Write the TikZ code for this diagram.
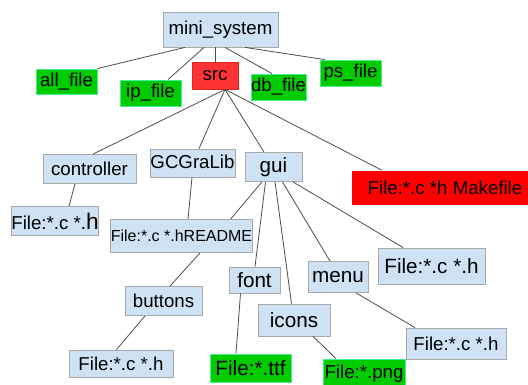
\documentclass[tikz,border=0pt]{standalone}
\usepackage{fontspec}
\setmainfont{Liberation Sans}
\usetikzlibrary{calc}
\definecolor{dirblue}{HTML}{CFE2F3}
\definecolor{dirline}{HTML}{A8A8A8}
\definecolor{filegreen}{HTML}{00CC00}
\definecolor{greenline}{HTML}{44EE99}
\definecolor{srcred}{HTML}{FF3333}
\definecolor{srcline}{HTML}{DD2222}
\tikzset{
  bluebox/.style={draw=dirline,fill=dirblue,inner sep=0pt,line width=0.6pt,font=\fontsize{14}{16}\selectfont},
  greenbox/.style={draw=greenline,fill=filegreen,inner sep=0pt,line width=0.6pt,font=\fontsize{14}{16}\selectfont},
  redbox/.style={draw=srcline,fill=srcred,inner sep=0pt,line width=0.6pt,font=\fontsize{14}{16}\selectfont},
  big/.style={font=\fontsize{15.5}{18}\selectfont},
  wh/.style 2 args={minimum width=#1*0.75pt,minimum height=#2*0.75pt},
  link/.style={draw=black!70,line width=0.6pt}
}
\begin{document}
\begin{tikzpicture}[x=0.75pt,y=-0.75pt]
\useasboundingbox (0,0) rectangle (528,385);
\begin{scope}
\clip (0,0) rectangle (528,385);

\node[bluebox,wh={115}{35}] (ms) at (220.5,29.5) {mini\_system};
\node[greenbox,wh={61}{25}] (all) at (66.5,81.5) {all\_file};
\node[greenbox,wh={61}{26}] (ip) at (150.5,93) {ip\_file};
\node[redbox,wh={46}{27}] (src) at (215,75.5) {src};
\node[greenbox,wh={53}{26}] (db) at (278.5,87) {db\_file};
\node[greenbox,wh={61}{26}] (ps) at (350.5,73) {ps\_file};

\node[bluebox,wh={93}{29}] (ctrl) at (89.5,169) {controller};
\node[bluebox,wh={85}{28}] (gcg) at (192.5,163) {\raisebox{2pt}{GCGraLib}};
\node[bluebox,big,wh={57}{29}] (gui) at (273.5,167) {gui};
\node[redbox,draw=none,fill=red,wh={186}{34}] (mk) at (445,187.5) {File:*.c *h Makefile};

\node[bluebox,wh={86}{29}] (fc) at (55,221) {File:*.c *.{\fontsize{17}{18}\selectfont h}};
\node[bluebox,font=\fontsize{12}{14}\selectfont,wh={141}{33}] (rd) at (181.5,236) {File:*.c *.hREADME};
\node[bluebox,big,wh={107}{36}] (fg) at (431.5,266) {File:*.c *.h};

\node[bluebox,big,wh={51}{26}] (font) at (254.5,280) {font};
\node[bluebox,big,wh={60}{31}] (menu) at (338,277) {menu};
\node[bluebox,big,wh={72}{32}] (icons) at (294,320) {icons};
\node[bluebox,wh={77}{29}] (btn) at (163.5,301) {buttons};

\node[bluebox,wh={104}{27}] (fb) at (121,363.5) {File:*.c *.h};
\node[greenbox,big,wh={81}{28}] (ttf) at (250.5,368) {File:*.ttf};
\node[greenbox,wh={82}{30}] (png) at (364,374) {File:*.png};
\node[bluebox,wh={100}{31}] (fm) at (456,343.5) {File:*.c *.h};

\draw[link] ($(ms.south)+(-35.5,0)$) -- (all.north east);
\draw[link] ($(ms.south)+(-16.5,0)$) -- ($(ip.north)+(17.5,0)$);
\draw[link] ($(ms.south)+(-5.5,0)$) -- (src.north);
\draw[link] ($(ms.south)+(4.5,0)$) -- ($(db.north)+(-6.5,0)$);
\draw[link] ($(ms.south)+(24.5,0)$) -- ($(ps.north west)+(5,0)$);

\draw[link] ($(src.south)+(10,0)$) -- ($(ctrl.north)+(3.5,0)$);
\draw[link] ($(src.south)+(10,0)$) -- ($(gcg.north)+(6.5,0)$);
\draw[link] ($(src.south)+(10,0)$) -- ($(gui.north)+(-9.5,0)$);
\draw[link] ($(src.south)+(10,0)$) -- ($(mk.north west)+(30,0)$);

\draw[link] ($(ctrl.south)+(-14.5,0)$) -- ($(fc.north)+(14,0)$);
\draw[link] ($(gcg.south)+(-0.5,0)$) -- ($(rd.north)+(6.5,0)$);

\draw[link] ($(gui.south)+(-11.5,0)$) -- ($(rd.north east)+(-22,0)$);
\draw[link] ($(gui.south)+(-8,0)$) -- ($(font.north)+(0.5,0)$);
\draw[link] ($(gui.south)+(1.5,0)$) -- ($(icons.north)+(-2.5,0)$);
\draw[link] ($(gui.south)+(9,0)$) -- ($(menu.north)+(-8,0)$);
\draw[link] ($(gui.south)+(19.5,0)$) -- ($(fg.north west)+(25.5,0)$);

\draw[link] ($(rd.south)+(18.5,0)$) -- ($(btn.north)+(6.5,0)$);
\draw[link] ($(btn.south)+(-18.5,0)$) -- ($(fb.north)+(-4.5,0)$);
\draw[link] ($(font.south)+(-14,0)$) -- ($(ttf.north)+(-14.5,0)$);
\draw[link] ($(icons.south)+(19,0)$) -- ($(png.north)+(-28,0)$);
\draw[link] ($(menu.south)+(18,0)$) -- ($(fm.north)+(-41,0)$);
\end{scope}
\end{tikzpicture}
\end{document}
